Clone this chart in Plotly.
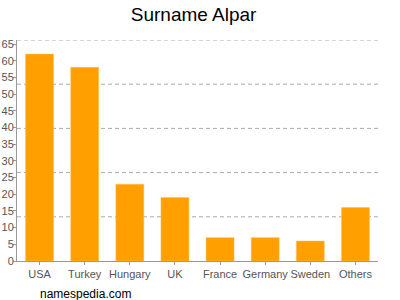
import plotly.graph_objects as go

countries = ["USA", "Turkey", "Hungary", "UK", "France", "Germany", "Sweden", "Others"]
counts = [62, 58, 23, 19, 7, 7, 6, 16]
y_ticks = list(range(0, 70, 5))
y_max = 66.2
grid_vals = [y_max * k / 5 for k in range(1, 6)]

fig = go.Figure()
fig.add_trace(go.Bar(
    x=countries, y=counts,
    marker=dict(color="#FFA000", line=dict(color="#FFC060", width=0.5)),
    width=0.62,
))

shapes = []
for g in grid_vals:
    shapes.append(dict(type="line", xref="paper", yref="y", x0=0, x1=1, y0=g, y1=g,
                       line=dict(color="#AAAAAA", width=1, dash="4px,3px"), layer="below"))

fig.update_layout(
    width=400, height=300,
    margin=dict(l=17, r=22, t=40, b=39),
    plot_bgcolor="white", paper_bgcolor="white",
    font=dict(family="Liberation Sans, Arial, sans-serif", color="#555555", size=11),
    title=dict(text="Surname Alpar", x=0.484, xanchor="center", y=0.953, yanchor="middle",
               font=dict(size=19, color="#000000")),
    showlegend=False,
    bargap=0.38,
    shapes=shapes,
    xaxis=dict(showline=True, linecolor="#999999", linewidth=1, ticks="outside",
               ticklen=3, tickcolor="#999999", showgrid=False, tickangle=0,
               automargin=False, tickfont=dict(size=11, color="#555555")),
    yaxis=dict(range=[0, y_max], tickvals=y_ticks, showline=True, linecolor="#999999",
               linewidth=1, ticks="outside", ticklen=3, tickcolor="#999999",
               showgrid=False, zeroline=False, automargin=False, ticklabelstandoff=-3,
               tickfont=dict(size=11, color="#555555")),
    annotations=[dict(text="namespedia.com", xref="paper", yref="paper", x=0.058, y=-0.11,
                      xanchor="left", yanchor="top", showarrow=False,
                      font=dict(size=12, color="#000000"))],
)

fig.write_html("out.html")
